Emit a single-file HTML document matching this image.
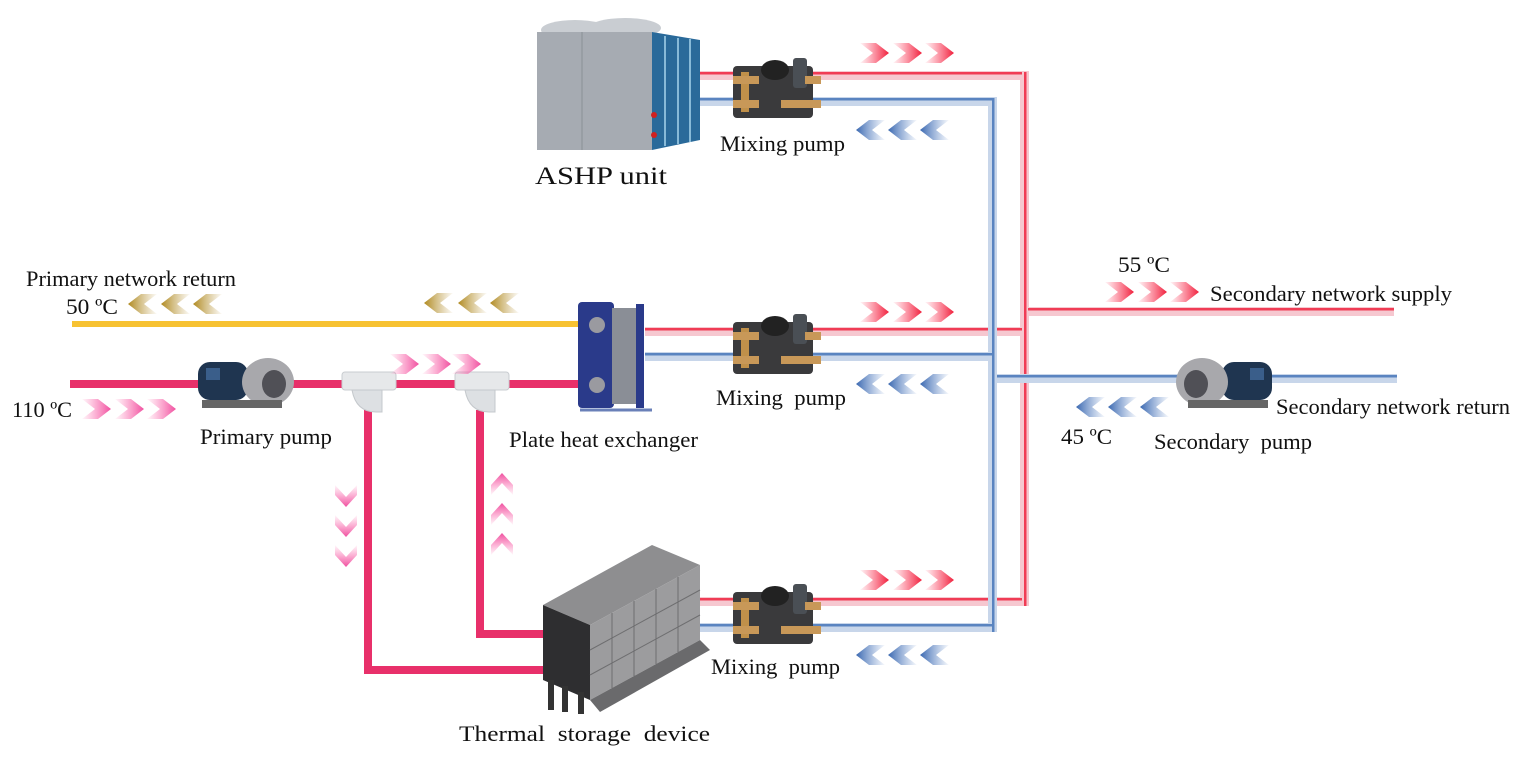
<!DOCTYPE html>
<html><head><meta charset="utf-8"><style>
html,body{margin:0;padding:0;background:#fff}
svg{display:block}
text{font-family:"Liberation Serif",serif;font-size:22px;fill:#111;white-space:pre}
</style></head><body>
<svg width="1528" height="757" viewBox="0 0 1528 757" xmlns="http://www.w3.org/2000/svg">
<defs>
<linearGradient id="gr" x1="0" x2="1"><stop offset="0" stop-color="#ff4060" stop-opacity="0.05"/><stop offset="1" stop-color="#f0203c"/></linearGradient>
<linearGradient id="gp" x1="0" x2="1"><stop offset="0" stop-color="#ff70b0" stop-opacity="0.05"/><stop offset="1" stop-color="#f050a0"/></linearGradient>
<linearGradient id="gb" x1="1" x2="0"><stop offset="0" stop-color="#6088c8" stop-opacity="0.05"/><stop offset="1" stop-color="#3a68b0"/></linearGradient>
<linearGradient id="gy" x1="1" x2="0"><stop offset="0" stop-color="#c0a050" stop-opacity="0.05"/><stop offset="1" stop-color="#b08a20"/></linearGradient>
<linearGradient id="gpd" x1="0" y1="0" x2="0" y2="1"><stop offset="0" stop-color="#ff70b0" stop-opacity="0.05"/><stop offset="1" stop-color="#f050a0"/></linearGradient>
<linearGradient id="gpu" x1="0" y1="1" x2="0" y2="0"><stop offset="0" stop-color="#ff70b0" stop-opacity="0.05"/><stop offset="1" stop-color="#f050a0"/></linearGradient>
<g id="cr"><polygon points="0,0 16,0 29,10 16,20 0,20 13,10"/></g>
<g id="cl"><polygon points="29,0 13,0 0,10 13,20 29,20 16,10"/></g>
<g id="mp">
 <rect x="0" y="8" width="80" height="52" rx="4" fill="#3a3a3c"/>
 <ellipse cx="42" cy="12" rx="14" ry="10" fill="#222"/>
 <rect x="60" y="0" width="14" height="30" rx="3" fill="#4a4f55"/>
 <rect x="8" y="14" width="8" height="40" fill="#c0904a"/>
 <rect x="0" y="18" width="26" height="8" fill="#c89858"/>
 <rect x="0" y="42" width="26" height="8" fill="#c89858"/>
 <rect x="48" y="42" width="40" height="8" fill="#c89858"/>
 <rect x="72" y="18" width="16" height="8" fill="#c89858"/>
</g>
<g id="pump">
 <rect x="0" y="6" width="50" height="38" rx="12" fill="#1f3550"/>
 <rect x="8" y="12" width="14" height="12" fill="#3a5e8a"/>
 <ellipse cx="70" cy="26" rx="26" ry="24" fill="#a8a8ac"/>
 <ellipse cx="76" cy="28" rx="12" ry="14" fill="#505056"/>
 <rect x="4" y="44" width="80" height="8" fill="#666"/>
</g>
<g id="tee">
 <rect x="0" y="0" width="54" height="18" rx="3" fill="#e6e8ea" stroke="#c8ccd0"/>
 <path d="M10 18 Q14 40 34 40 L40 40 L40 18 Z" fill="#dde0e3" stroke="#c4c8cc"/>
</g>
</defs>

<rect x="72" y="321" width="520" height="6" fill="#f7c232"/>
<rect x="70" y="380" width="130" height="8" fill="#e8306a"/>
<rect x="292" y="380" width="300" height="8" fill="#e8306a"/>
<rect x="364" y="410" width="8" height="264" fill="#e8306a"/>
<rect x="364" y="666" width="196" height="8" fill="#e8306a"/>
<rect x="476" y="410" width="8" height="228" fill="#e8306a"/>
<rect x="476" y="630" width="84" height="8" fill="#e8306a"/>

<g fill="#f6c8d0">
<rect x="660" y="71" width="368" height="9"/>
<rect x="645" y="327" width="383" height="9"/>
<rect x="690" y="597" width="338" height="9"/>
<rect x="1020" y="71" width="9" height="535"/>
<rect x="1028" y="307" width="366" height="9"/>
</g>
<g fill="#f03c55">
<rect x="660" y="72" width="362" height="2.5"/>
<rect x="645" y="328" width="377" height="2.5"/>
<rect x="690" y="598" width="332" height="2.5"/>
<rect x="1024" y="72" width="2.5" height="534"/>
<rect x="1028" y="308" width="366" height="2.5"/>
</g>
<g fill="#c8d6ea">
<rect x="660" y="97" width="337" height="9"/>
<rect x="645" y="352" width="352" height="9"/>
<rect x="690" y="623" width="307" height="9"/>
<rect x="988" y="97" width="9" height="535"/>
<rect x="997" y="374" width="400" height="9"/>
</g>
<g fill="#5a84c0">
<rect x="660" y="98" width="332" height="2.5"/>
<rect x="645" y="353" width="347" height="2.5"/>
<rect x="690" y="624" width="302" height="2.5"/>
<rect x="992" y="98" width="2.5" height="534"/>
<rect x="997" y="375" width="400" height="2.5"/>
</g>

<ellipse cx="575" cy="30" rx="34" ry="10" fill="#c9cdd2"/>
<ellipse cx="625" cy="28" rx="36" ry="10" fill="#c9cdd2"/>
<rect x="537" y="32" width="115" height="118" fill="#a6abb2"/>
<line x1="582" y1="32" x2="582" y2="150" stroke="#8a9096"/>
<polygon points="652,32 700,40 700,140 652,150" fill="#2a6a9a"/>
<g stroke="#a8d4ec" stroke-width="1.5"><line x1="665" y1="36" x2="665" y2="146"/><line x1="678" y1="38" x2="678" y2="144"/><line x1="690" y1="39" x2="690" y2="142"/></g>
<circle cx="654" cy="115" r="3" fill="#d02020"/><circle cx="654" cy="135" r="3" fill="#d02020"/>

<use href="#mp" x="733" y="58"/>
<use href="#mp" x="733" y="314"/>
<use href="#mp" x="733" y="584"/>

<rect x="578" y="302" width="36" height="106" rx="4" fill="#2a3a8a"/>
<rect x="612" y="308" width="28" height="96" fill="#8a8e96"/>
<rect x="636" y="304" width="8" height="104" fill="#2a3a8a"/>
<circle cx="597" cy="325" r="8" fill="#9a9aa0"/><circle cx="597" cy="385" r="8" fill="#9a9aa0"/>
<line x1="580" y1="410" x2="652" y2="410" stroke="#6a80b8" stroke-width="3"/>

<use href="#pump" x="198" y="356"/>
<use href="#tee" x="342" y="372"/>
<use href="#tee" x="455" y="372"/>
<g transform="translate(1272,356) scale(-1,1)"><use href="#pump"/></g>

<polygon points="543,605 652,545 700,565 590,625" fill="#8e8e90"/>
<polygon points="543,605 590,625 590,700 543,680" fill="#2e2e30"/>
<polygon points="590,625 700,565 700,640 590,700" fill="#9c9c9e"/>
<polygon points="590,700 700,640 710,650 600,712" fill="#6a6a6c"/>
<g stroke="#6e6e70"><line x1="612" y1="613" x2="612" y2="688"/><line x1="634" y1="601" x2="634" y2="676"/><line x1="656" y1="589" x2="656" y2="664"/><line x1="678" y1="577" x2="678" y2="652"/><line x1="590" y1="650" x2="700" y2="590"/><line x1="590" y1="675" x2="700" y2="615"/></g>
<rect x="548" y="680" width="6" height="30" fill="#333"/><rect x="562" y="686" width="6" height="26" fill="#333"/><rect x="578" y="692" width="6" height="22" fill="#333"/>

<g fill="url(#gr)"><use href="#cr" x="860" y="43"/><use href="#cr" x="893" y="43"/><use href="#cr" x="925" y="43"/>
<use href="#cr" x="860" y="302"/><use href="#cr" x="893" y="302"/><use href="#cr" x="925" y="302"/>
<use href="#cr" x="860" y="570"/><use href="#cr" x="893" y="570"/><use href="#cr" x="925" y="570"/>
<use href="#cr" x="1105" y="282"/><use href="#cr" x="1138" y="282"/><use href="#cr" x="1170" y="282"/></g>
<g fill="url(#gb)"><use href="#cl" x="856" y="120"/><use href="#cl" x="888" y="120"/><use href="#cl" x="920" y="120"/>
<use href="#cl" x="856" y="374"/><use href="#cl" x="888" y="374"/><use href="#cl" x="920" y="374"/>
<use href="#cl" x="856" y="645"/><use href="#cl" x="888" y="645"/><use href="#cl" x="920" y="645"/>
<use href="#cl" x="1076" y="397"/><use href="#cl" x="1108" y="397"/><use href="#cl" x="1140" y="397"/></g>
<g fill="url(#gy)"><use href="#cl" x="128" y="294"/><use href="#cl" x="161" y="294"/><use href="#cl" x="193" y="294"/>
<use href="#cl" x="424" y="293"/><use href="#cl" x="458" y="293"/><use href="#cl" x="490" y="293"/></g>
<g fill="url(#gp)"><use href="#cr" x="82" y="399"/><use href="#cr" x="115" y="399"/><use href="#cr" x="147" y="399"/>
<use href="#cr" x="390" y="354"/><use href="#cr" x="422" y="354"/><use href="#cr" x="452" y="354"/></g>
<g fill="url(#gpd)"><polygon points="335,485 346,497 357,485 357,495 346,507 335,495"/><polygon points="335,515 346,527 357,515 357,525 346,537 335,525"/><polygon points="335,545 346,557 357,545 357,555 346,567 335,555"/></g>
<g fill="url(#gpu)"><polygon points="491,485 502,473 513,485 513,495 502,483 491,495"/><polygon points="491,515 502,503 513,515 513,525 502,513 491,525"/><polygon points="491,545 502,533 513,545 513,555 502,543 491,555"/></g>

<text x="26" y="286" textLength="210" lengthAdjust="spacingAndGlyphs">Primary network return</text>
<text x="66" y="314" textLength="52" lengthAdjust="spacingAndGlyphs">50 ºC</text>
<text x="12" y="417" textLength="60" lengthAdjust="spacingAndGlyphs">110 ºC</text>
<text x="200" y="444" textLength="132" lengthAdjust="spacingAndGlyphs">Primary pump</text>
<text x="509" y="447" textLength="189" lengthAdjust="spacingAndGlyphs">Plate heat exchanger</text>
<text x="535" y="184" style="font-size:25px" textLength="132" lengthAdjust="spacingAndGlyphs">ASHP unit</text>
<text x="720" y="151" textLength="125" lengthAdjust="spacingAndGlyphs">Mixing pump</text>
<text x="716" y="405" textLength="130" lengthAdjust="spacingAndGlyphs">Mixing  pump</text>
<text x="711" y="674" textLength="129" lengthAdjust="spacingAndGlyphs">Mixing  pump</text>
<text x="459" y="741" textLength="251" lengthAdjust="spacingAndGlyphs">Thermal  storage  device</text>
<text x="1118" y="272" textLength="52" lengthAdjust="spacingAndGlyphs">55 ºC</text>
<text x="1210" y="301" textLength="242" lengthAdjust="spacingAndGlyphs">Secondary network supply</text>
<text x="1276" y="414" textLength="234" lengthAdjust="spacingAndGlyphs">Secondary network return</text>
<text x="1061" y="444" textLength="51" lengthAdjust="spacingAndGlyphs">45 ºC</text>
<text x="1154" y="449" textLength="158" lengthAdjust="spacingAndGlyphs">Secondary  pump</text>
</svg>
</body></html>
